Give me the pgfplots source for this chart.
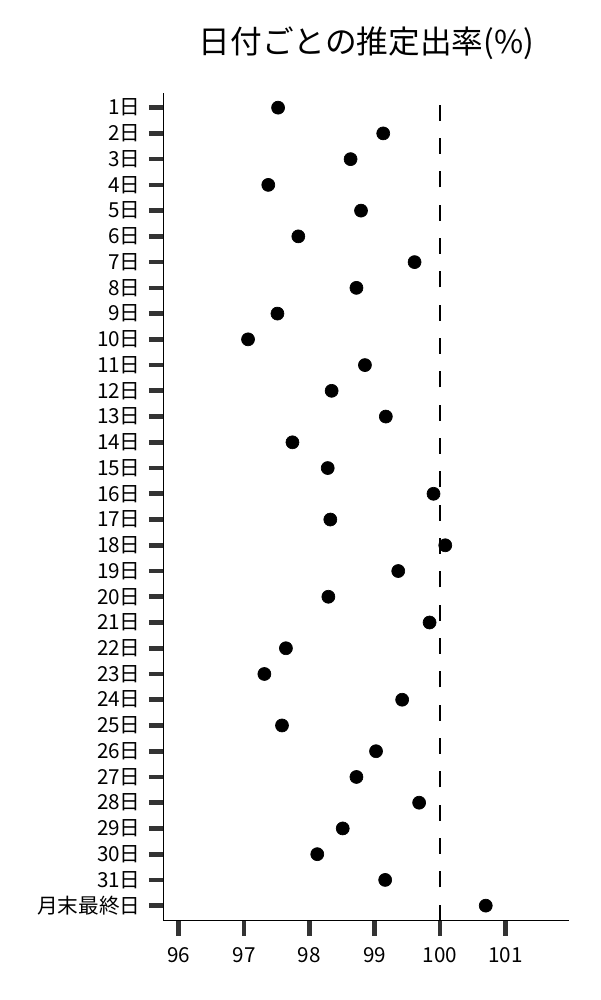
\documentclass[border=0pt]{standalone}
\usepackage{pgfplots}
\pgfplotsset{compat=1.18}
\usepackage{fontspec}
\setmainfont{Noto Sans CJK JP}
\definecolor{tickgray}{HTML}{333333}

\begin{document}
\begin{tikzpicture}
  % page = 600x1000 px at 0.6pt per px, axis south west at the origin
  \path[use as bounding box] (-98.4pt,-47.6pt) rectangle (261.6pt,552.4pt);
  \begin{axis}[
      at={(0,0)}, anchor=south west,
      width=243pt, height=496.8pt, scale only axis,
      xmin=95.773, xmax=101.975,
      ymin=0.417, ymax=32.583,
      axis x line*=bottom, axis y line*=left,
      axis line style={black, line width=0.6pt},
      xtick={96,97,98,99,100,101},
      ytick={1,...,32},
      yticklabels={月末最終日,31日,30日,29日,28日,27日,26日,25日,24日,23日,22日,21日,
        20日,19日,18日,17日,16日,15日,14日,13日,12日,11日,10日,9日,8日,7日,6日,5日,
        4日,3日,2日,1日},
      tick align=outside,
      major tick length=9pt,
      major tick style={tickgray, line width=2.8pt},
      minor tick num=0,
      /pgf/number format/assume math mode=true,
      ticklabel style={font=\fontsize{12.4}{14}\selectfont, black},
      xticklabel style={yshift=-3.8pt},
      yticklabel style={xshift=-1.5pt},
      title={日付ごとの推定出率(\%)},
      title style={font=\fontsize{19}{22}\selectfont, at={(0.5,1)}, anchor=center, yshift=23.6pt},
      clip=false,
    ]
    % reference line at 100%
    \addplot[black, line width=1.4pt, dash pattern=on 9.6pt off 10.4pt]
      coordinates {(100,0.417) (100,32.583)};
    % estimated rates, y = 33 - day
    \addplot[only marks, mark=*, mark size=3.9pt, black] coordinates {
      (97.52,32) (99.13,31) (98.63,30) (97.37,29) (98.79,28)
      (97.83,27) (99.61,26) (98.72,25) (97.51,24) (97.06,23)
      (98.85,22) (98.34,21) (99.17,20) (97.74,19) (98.28,18)
      (99.90,17) (98.32,16) (100.08,15) (99.36,14) (98.29,13)
      (99.84,12) (97.64,11) (97.31,10) (99.42,9) (97.58,8)
      (99.02,7) (98.72,6) (99.68,5) (98.51,4) (98.12,3)
      (99.16,2) (100.70,1)};
  \end{axis}
\end{tikzpicture}
\end{document}
